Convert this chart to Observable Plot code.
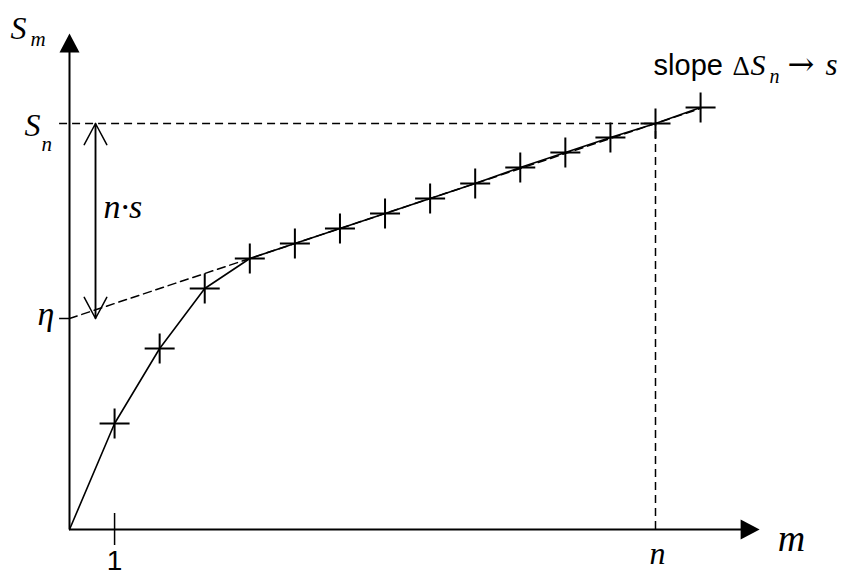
<!DOCTYPE html>
<html>
<head>
<meta charset="utf-8">
<script src="https://cdn.jsdelivr.net/npm/d3@7"></script>
<script src="https://cdn.jsdelivr.net/npm/@observablehq/plot@0.6"></script>
<style>
  html, body { margin: 0; padding: 0; background: #fff; }
  svg { display: block; overflow: visible; }
</style>
</head>
<body>
<div id="chart"></div>
<script>
// ---- data ----
const mValues = [1, 2, 3, 4, 5, 6, 7, 8, 9, 10, 11, 12, 13, 14];
const SValues = [1.06, 1.81, 2.41, 2.71, 2.86, 3.01, 3.16, 3.31, 3.46, 3.62, 3.77, 3.92, 4.06, 4.22];
const eta = 2.11;      // intercept η
const slope = 0.15;    // asymptotic slope s
const nIndex = 13;     // n
const xTickLabels = ["1"];

// ---- layout constants ----
const xAxisEnd = 15.31;   // arrow tip of m axis
const yAxisEnd = 4.96;    // arrow tip of S_m axis
const arrowX = 0.577;     // x position of the n·s double arrow

const Sn = SValues[nIndex - 1];
const points = mValues.map((m, i) => ({m, S: SValues[i]}));
const curve = [{m: 0, S: 0}, ...points];
const asymptote = [{m: 0, S: eta}, {m: mValues[mValues.length - 1], S: eta + slope * mValues[mValues.length - 1]}];
const last = points[points.length - 1];

const plusSymbol = {
  draw(ctx) { ctx.moveTo(-15, 0); ctx.lineTo(15, 0); ctx.moveTo(0, -15); ctx.lineTo(0, 15); }
};
const headSymbol = {
  draw(ctx) { ctx.moveTo(0, 0); ctx.lineTo(-10, 19); ctx.lineTo(10, 19); ctx.closePath(); }
};

const serif = "'Liberation Serif', 'DejaVu Serif', serif";
const sans = "'Liberation Sans', Arial, sans-serif";

function label(text, x, y, dx, dy, o = {}) {
  return Plot.text([0], {
    x: () => x, y: () => y, text: () => text, dx, dy,
    lineAnchor: "bottom", textAnchor: o.anchor ?? "start",
    fontFamily: o.family ?? serif, fontStyle: o.style ?? "italic",
    fontSize: o.size ?? 30, fill: "black"
  });
}

const chart = Plot.plot({
  width: 845,
  height: 576,
  x: {domain: [0, 13], range: [69, 655], axis: null},
  y: {domain: [0, 4], range: [529, 129], axis: null},
  marks: [
    // dashed guides
    Plot.ruleY([Sn], {x1: -0.22, x2: nIndex, stroke: "black", strokeWidth: 1.5, strokeDasharray: "8,5"}),
    Plot.ruleX([nIndex], {y1: 0, y2: Sn, stroke: "black", strokeWidth: 1.5, strokeDasharray: "8,5"}),
    Plot.line(asymptote, {x: "m", y: "S", stroke: "black", strokeWidth: 1.5, strokeDasharray: "8,5"}),
    // eta tick
    Plot.ruleY([eta], {x1: -0.22, x2: 0, stroke: "black", strokeWidth: 1.5}),
    // axes
    Plot.ruleY([0], {x1: 0, x2: xAxisEnd - 0.4, stroke: "black", strokeWidth: 2}),
    Plot.ruleX([0], {y1: 0, y2: yAxisEnd - 0.17, stroke: "black", strokeWidth: 2}),
    Plot.dot([0], {x: () => xAxisEnd, y: () => 0, symbol: headSymbol, rotate: 90, fill: "black", stroke: "none"}),
    Plot.dot([0], {x: () => 0, y: () => yAxisEnd, symbol: headSymbol, fill: "black", stroke: "none"}),
    // tick at m = 1
    Plot.ruleX([1], {y1: -0.16, y2: 0.16, stroke: "black", strokeWidth: 1.5}),
    // the curve
    Plot.line(curve, {x: "m", y: "S", stroke: "black", strokeWidth: 1.6}),
    Plot.dot(points, {x: "m", y: "S", symbol: plusSymbol, fill: "none", stroke: "black", strokeWidth: 2}),
    // n·s double arrow
    Plot.arrow([0], {x1: () => arrowX, y1: () => eta, x2: () => arrowX, y2: () => Sn, stroke: "black", strokeWidth: 1.5, headLength: 24, headAngle: 56}),
    Plot.arrow([0], {x1: () => arrowX, y1: () => Sn, x2: () => arrowX, y2: () => eta, stroke: "black", strokeWidth: 1.5, headLength: 24, headAngle: 56}),
    // labels
    label("S", 0, yAxisEnd, -59, 5, {size: 32}),
    label("m", 0, yAxisEnd, -39, 12, {size: 21}),
    label("S", 0, Sn, -45, 12, {size: 32}),
    label("n", 0, Sn, -28, 27, {size: 21}),
    label("η", 0, eta, -32, 6, {size: 34}),
    label("n·s", arrowX, (eta + Sn) / 2, 8, -3, {size: 34}),
    label(xTickLabels[0], 1, 0, 0, 40, {anchor: "middle", family: sans, style: "normal", size: 28}),
    label("n", nIndex, 0, 2, 34, {anchor: "middle", size: 32}),
    label("m", xAxisEnd, 0, 18, 21, {size: 38}),
    label("slope", last.m, last.S, -47, -33, {family: sans, style: "normal", size: 29}),
    label("Δ", last.m, last.S, 32, -33, {style: "normal", size: 27}),
    label("S", last.m, last.S, 50, -33, {size: 30}),
    label("n", last.m, last.S, 69, -25, {size: 20}),
    label("→", last.m, last.S, 87, -33, {family: "'DejaVu Serif', serif", style: "normal", size: 32}),
    label("s", last.m, last.S, 125, -33, {size: 31})
  ]
});
document.getElementById("chart").appendChild(chart);
</script>
</body>
</html>
